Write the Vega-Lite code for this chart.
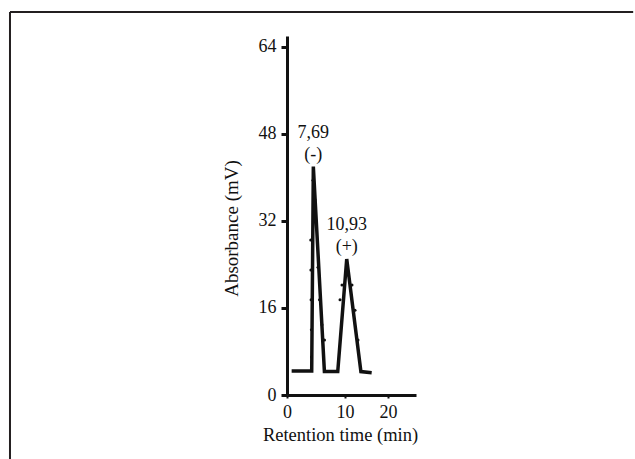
{
  "$schema": "https://vega.github.io/schema/vega-lite/v6.json",
  "autosize": {"type": "none"},
  "padding": {"left": 10, "top": 12, "right": 0, "bottom": 0},
  "width": 625,
  "height": 447,
  "background": "white",
  "config": {
    "view": {"stroke": null},
    "font": "Liberation Serif"
  },
  "datasets": {
    "trace": [
      {"time": 0.8, "absorbance": 4.4},
      {"time": 4.26, "absorbance": 4.4},
      {"time": 4.54, "absorbance": 42.0},
      {"time": 6.45, "absorbance": 4.3},
      {"time": 8.75, "absorbance": 4.3},
      {"time": 10.4, "absorbance": 25.0},
      {"time": 13.7, "absorbance": 4.3},
      {"time": 16.2, "absorbance": 4.1}
    ],
    "dots": [
      {"time": 4.09, "absorbance": 28.5},
      {"time": 4.12, "absorbance": 23.0},
      {"time": 4.15, "absorbance": 17.5},
      {"time": 4.2, "absorbance": 12.0},
      {"time": 4.22, "absorbance": 7.0},
      {"time": 4.48, "absorbance": 39.5},
      {"time": 4.83, "absorbance": 35.9},
      {"time": 5.34, "absorbance": 23.5},
      {"time": 5.6, "absorbance": 17.5},
      {"time": 6.03, "absorbance": 12.9},
      {"time": 6.47, "absorbance": 10.1},
      {"time": 9.14, "absorbance": 17.5},
      {"time": 9.48, "absorbance": 20.2},
      {"time": 11.63, "absorbance": 20.2},
      {"time": 12.33, "absorbance": 15.6},
      {"time": 13.02, "absorbance": 10.1}
    ],
    "peaks": [
      {"time": 4.54, "absorbance": 42.0, "label": "7,69\n(-)"},
      {"time": 10.4, "absorbance": 25.0, "label": "10,93\n(+)"}
    ]
  },
  "layer": [
    {
      "data": {"values": [{}]},
      "mark": {"type": "rule", "color": "#231f20", "strokeWidth": 2, "clip": false},
      "encoding": {
        "x": {"datum": -47.76, "type": "quantitative"},
        "x2": {"datum": 76.97},
        "y": {"datum": 70.41, "type": "quantitative"}
      }
    },
    {
      "data": {"values": [{}]},
      "mark": {"type": "rule", "color": "#231f20", "strokeWidth": 2, "clip": false},
      "encoding": {
        "x": {"datum": -47.76, "type": "quantitative"},
        "y": {"datum": 70.41, "type": "quantitative"},
        "y2": {"datum": -11.8}
      }
    },
    {
      "data": {"name": "trace"},
      "mark": {"type": "line", "color": "#111111", "strokeWidth": 3.5, "strokeJoin": "miter"},
      "encoding": {
        "x": {
          "field": "time", "type": "quantitative",
          "scale": {"domain": [0, 10, 26.5], "range": [277, 335, 406], "nice": false, "zero": false},
          "axis": {
            "orient": "bottom", "offset": -64, "values": [0, 10, 20],
            "title": "Retention time (min)", "titleFontSize": 18.5, "titleFontWeight": "normal", "titleColor": "#111",
            "titleX": 330, "titleY": 39, "titleBaseline": "middle", "titleAlign": "center",
            "labelFontSize": 18, "labelColor": "#111", "labelPadding": 5,
            "domainColor": "#111", "domainWidth": 3, "tickColor": "#111", "tickWidth": 2, "tickSize": 3,
            "grid": false, "labelFlush": false
          }
        },
        "y": {
          "field": "absorbance", "type": "quantitative",
          "scale": {"domain": [0, 66], "range": [383, 24], "nice": false, "zero": false},
          "axis": {
            "orient": "left", "offset": -277, "values": [0, 16, 32, 48, 64],
            "title": "Absorbance (mV)", "titleFontSize": 19, "titleFontWeight": "normal", "titleColor": "#111",
            "titleX": -56, "titleY": 216, "titleBaseline": "middle", "titleAlign": "center", "titleAngle": -90,
            "labelFontSize": 18, "labelColor": "#111", "labelPadding": 5,
            "domainColor": "#111", "domainWidth": 3, "tickColor": "#111", "tickWidth": 3, "tickSize": 6,
            "grid": false, "labelFlush": false
          }
        }
      }
    },
    {
      "data": {"name": "dots"},
      "mark": {"type": "point", "filled": true, "color": "#111111", "size": 9, "opacity": 1},
      "encoding": {
        "x": {"field": "time", "type": "quantitative"},
        "y": {"field": "absorbance", "type": "quantitative"}
      }
    },
    {
      "data": {"name": "peaks"},
      "mark": {"type": "text", "font": "Liberation Serif", "fontSize": 18, "color": "#111", "align": "center", "baseline": "middle", "lineBreak": "\n", "lineHeight": 22, "dy": -34},
      "encoding": {
        "x": {"field": "time", "type": "quantitative"},
        "y": {"field": "absorbance", "type": "quantitative"},
        "text": {"field": "label", "type": "nominal"}
      }
    }
  ]
}
